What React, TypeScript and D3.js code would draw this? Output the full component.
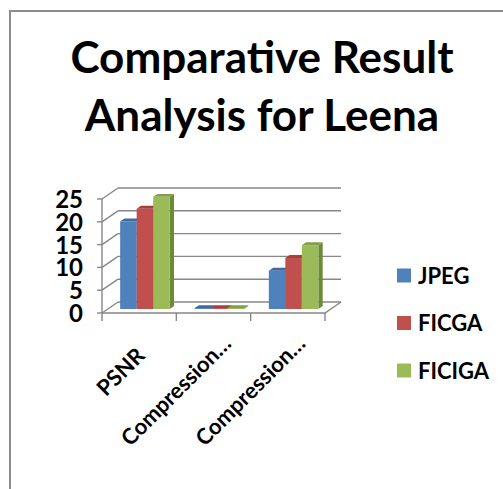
import React from "react";
import * as d3 from "d3";

const categories = ["PSNR", "Compression…", "Compression…"];
const seriesNames = ["JPEG", "FICGA", "FICIGA"];
const jpeg = [19.2, 0.2, 8.4];
const ficga = [22.0, 0.2, 11.2];
const ficiga = [24.6, 0.2, 14.0];
const yTicks = [0, 5, 10, 15, 20, 25];

const seriesValues = [jpeg, ficga, ficiga];
const frontColors = ["#4F81BD", "#C0504D", "#9BBB59"];
const sideColors = ["#385D8A", "#8C3836", "#6B8A3A"];
const topColors = ["#41699B", "#A2413E", "#819E48"];

const W = 503;
const H = 489;
const font = "Lato, 'Open Sans', sans-serif";

export default function App() {
  const x0 = 102;
  const plotW = 223;
  const floorY = 313;
  const DX = 16;
  const DY = -11;
  const f0 = 0.36;
  const f1 = 0.63;
  const grid = "#878787";

  const y = d3.scaleLinear().domain([0, 25]).range([floorY, 199]);
  const xCat = d3
    .scaleBand<number>()
    .domain(categories.map((_, i) => i))
    .range([x0, x0 + plotW])
    .paddingInner(0)
    .paddingOuter(0);
  const bw = xCat.bandwidth();
  const xSer = d3
    .scaleBand<number>()
    .domain(seriesNames.map((_, i) => i))
    .range([0, bw])
    .paddingInner(0)
    .paddingOuter(0.75);
  const barW = xSer.bandwidth();

  const line = d3.line();

  const bars: React.ReactNode[] = [];
  categories.forEach((_, ci) => {
    seriesValues.forEach((vals, si) => {
      const v = vals[ci];
      const left = (xCat(ci) as number) + (xSer(si) as number) + f0 * DX;
      const right = left + barW;
      const top = y(v) + f0 * DY;
      const base = floorY + f0 * DY;
      const ddx = (f1 - f0) * DX;
      const ddy = (f1 - f0) * DY;
      const front = line([
        [left, top],
        [right, top],
        [right, base],
        [left, base],
      ]) + "Z";
      const side = line([
        [right, top],
        [right + ddx, top + ddy],
        [right + ddx, base + ddy],
        [right, base],
      ]) + "Z";
      const topFace = line([
        [left, top],
        [left + ddx, top + ddy],
        [right + ddx, top + ddy],
        [right, top],
      ]) + "Z";
      bars.push(
        <g key={`${ci}-${si}`}>
          <path d={side} fill={sideColors[si]} />
          <path d={front} fill={frontColors[si]} />
          <path d={topFace} fill={topColors[si]} />
        </g>
      );
    });
  });

  return (
    <svg
      width={W}
      height={H}
      style={{ position: "absolute", left: 0, top: 0, background: "#fff" }}
    >
      <rect x={0} y={0} width={W} height={H} fill="#fff" />
      <path d="M10,489 L10,11 L503,11" fill="none" stroke="#8c8c8c" strokeWidth={2} />

      <g fontFamily={font} fontWeight="bold" fill="#000" textAnchor="middle" fontSize={44}>
        <text x={262} y={73}>Comparative Result</text>
        <text x={262} y={131}>Analysis for Leena</text>
      </g>

      <g stroke={grid} strokeWidth={1.4} fill="none">
        {yTicks.map((t) => (
          <path
            key={`bw${t}`}
            d={line([
              [x0 + DX, y(t) + DY],
              [x0 + plotW + DX, y(t) + DY],
            ]) as string}
          />
        ))}
        {yTicks.map((t) => (
          <path
            key={`lw${t}`}
            d={line([
              [x0, y(t)],
              [x0 + DX, y(t) + DY],
            ]) as string}
          />
        ))}
        {yTicks.map((t) => (
          <path
            key={`tk${t}`}
            d={line([
              [x0 - 5, y(t)],
              [x0, y(t)],
            ]) as string}
          />
        ))}
        <path d={line([[x0, y(25)], [x0, floorY]]) as string} />
        <path d={line([[x0, floorY], [x0 + plotW, floorY], [x0 + plotW + DX, floorY + DY]]) as string} />
        {d3.range(categories.length + 1).map((i) => (
          <path
            key={`ct${i}`}
            d={line([
              [x0 + i * bw, floorY],
              [x0 + i * bw, floorY + 8],
            ]) as string}
          />
        ))}
      </g>

      {bars}

      <g fontFamily={font} fontWeight="bold" fontSize={24} textAnchor="end">
        {yTicks.map((t) => (
          <text key={`yl${t}`} x={83} y={y(t) + 9}>
            {t}
          </text>
        ))}
      </g>

      <g fontFamily={font} fontWeight="bold" fontSize={22} textAnchor="end">
        {categories.map((c, i) => {
          const cx = (xCat(i) as number) + bw / 2;
          const back = c.endsWith("…") ? 0 : 17;
          const ax = cx + 19 - back * Math.SQRT1_2;
          const ay = 345 + back * Math.SQRT1_2;
          return (
            <text key={`cl${i}`} transform={`translate(${ax},${ay}) rotate(-45)`}>
              {c}
            </text>
          );
        })}
      </g>

      <g fontFamily={font} fontWeight="bold" fontSize={22}>
        {seriesNames.map((s, i) => {
          const cy = 275.5 + i * 47.5;
          return (
            <g key={s}>
              <rect x={397} y={cy - 7} width={14} height={14} fill={frontColors[i]} />
              <text x={418} y={cy + 8}>
                {s}
              </text>
            </g>
          );
        })}
      </g>
    </svg>
  );
}
